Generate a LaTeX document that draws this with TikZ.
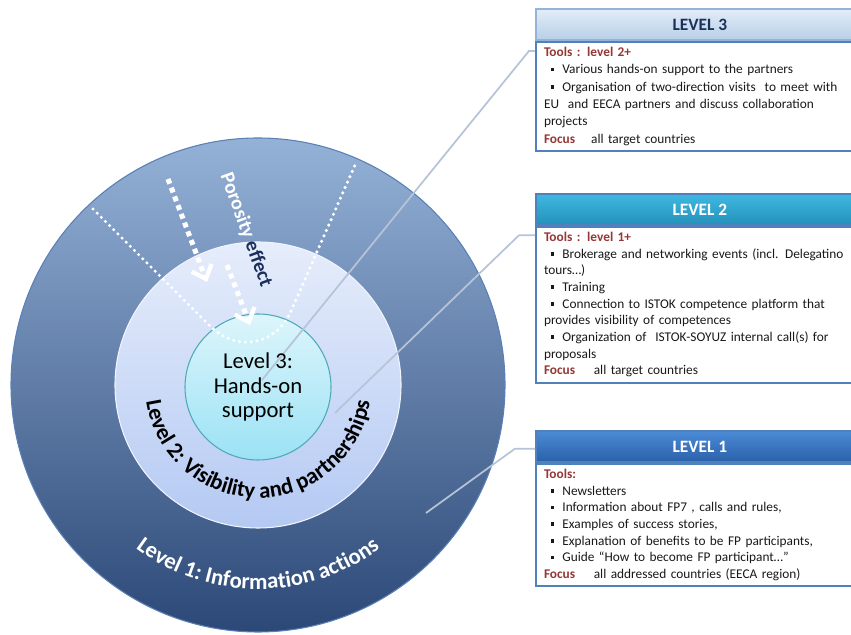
\documentclass[tikz,border=0pt]{standalone}
\usepackage{fontspec}
\setmainfont{Carlito}
\usepackage{xcolor}
\usepackage{tikz}
\usetikzlibrary{positioning, calc, arrows.meta, decorations.text}
\definecolor{infotop}{HTML}{94B1D7}
\definecolor{infobot}{HTML}{2C4877}
\definecolor{infoline}{HTML}{5A80B6}
\definecolor{vistop}{HTML}{E6EDFB}
\definecolor{visbot}{HTML}{B4C9F3}
\definecolor{coretop}{HTML}{DDF5FB}
\definecolor{corebot}{HTML}{9BE2F5}
\definecolor{coreline}{HTML}{4EA9B9}
\definecolor{boxblue}{HTML}{4F81BD}
\definecolor{toolred}{HTML}{953735}
\definecolor{linkgrey}{HTML}{B7C3D7}
\definecolor{navytext}{HTML}{1B2F5C}
\definecolor{hthreetop}{HTML}{E3EDF7}
\definecolor{hthreebot}{HTML}{B7CFE8}
\definecolor{htwotop}{HTML}{3FB9E2}
\definecolor{htwobot}{HTML}{2390B9}
\definecolor{honetop}{HTML}{4C8BD6}
\definecolor{honebot}{HTML}{2A60A9}

\newcommand{\bul}{\hspace*{5pt}\rule[2pt]{2.8pt}{2.8pt}\hspace{6pt}}
\newcommand{\tl}[1]{\textcolor{toolred}{\bfseries #1}}

\begin{document}
\begin{tikzpicture}[x=0.75pt, y=0.75pt,
  hdr/.style={draw=boxblue, line width=1.2pt, minimum width=246pt, minimum height=23.5pt, inner sep=0pt, anchor=north west, font=\fontsize{13}{15}\selectfont\bfseries},
  bodybox/.style={draw=boxblue, line width=1.5pt, fill=white, text width=256pt, align=left, inner xsep=6pt, inner ysep=4pt, text=black!90},
  ring/.style={circle, inner sep=0pt},
  link/.style={draw=linkgrey, line width=1.3pt},
  pores/.style={white, line width=2.6pt, dash pattern=on 0pt off 4.4pt, line cap=round},
  seep/.style={white, line width=3.8pt, dash pattern=on 3.8pt off 3.2pt, -{Straight Barb[length=9pt, width=16pt, line width=3.2pt]}}]
  \path[use as bounding box, clip] (0,0) rectangle (851,635);
  \fill[white] (0,0) rectangle (851,635);

  \node[ring, minimum size=370.5pt, top color=infotop, bottom color=infobot, draw=infoline, line width=0.8pt] (info) at (258,250) {};
  \node[ring, minimum size=214.5pt, top color=vistop, bottom color=visbot, draw=white!80!visbot, line width=0.8pt] (vis) at (258,250) {};
  \node[ring, minimum size=109.5pt, top color=coretop, bottom color=corebot, draw=coreline, line width=0.8pt] (core) at (258,248) {};

  \draw[pores] (93,426) -- (210,309) .. controls (236,283) and (276,288) .. (292,326) -- (355,470);
  \draw[seep] (168,456) -- (207,353);
  \draw[seep] (227,370) -- (250,310);
  \node[rotate=-70, font=\fontsize{15}{17}\selectfont\bfseries] (poro) at (246,405) {\textcolor{white}{Porosity} \textcolor{navytext}{effect}};

  \path[decorate, decoration={text along path, text align=center, text={|\fontsize{17}{19}\selectfont\bfseries\color{black}|Level 2: Visibility and partnerships}}] ($(vis.center)+(180:113)$) arc[start angle=180, end angle=360, radius=113];
  \path[decorate, decoration={text along path, text align=center, text={|\fontsize{17}{19}\selectfont\bfseries\color{white}|Level 1: Information actions}}] ($(info.center)+(200:204)$) arc[start angle=200, end angle=340, radius=204];

  \node[hdr, top color=hthreetop, bottom color=hthreebot, draw=boxblue!60, text=navytext] (hthree) at (535,627) {LEVEL 3};
  \node[bodybox, font=\fontsize{10}{13}\selectfont, below=0pt of hthree.south west, anchor=north west] (bthree) {\tl{Tools : level 2+}\\
    \bul Various hands-on support to the partners\\
    \bul Organisation of two-direction visits~ to meet with\\
    EU~ and EECA partners and discuss collaboration\\
    projects\\
    \tl{Focus}\hspace{12pt}all target countries};

  \node[hdr, top color=htwotop, bottom color=htwobot, text=white] (htwo) at (535,442) {LEVEL 2};
  \node[bodybox, font=\fontsize{10}{12.5}\selectfont, below=0pt of htwo.south west, anchor=north west] (btwo) {\tl{Tools : level 1+}\\
    \bul Brokerage and networking events (incl. Delegatino\\
    tours…)\\
    \bul Training\\
    \bul Connection to ISTOK competence platform that\\
    provides visibility of competences\\
    \bul Organization of~ ISTOK-SOYUZ internal call(s) for\\
    proposals\\
    \tl{Focus}\hspace{14pt}all target countries};

  \node[hdr, top color=honetop, bottom color=honebot, text=white] (hone) at (535,205) {LEVEL 1};
  \node[bodybox, font=\fontsize{10}{12.5}\selectfont, below=0pt of hone.south west, anchor=north west] (bone) {\tl{Tools:}\\
    \bul Newsletters\\
    \bul Information about FP7 , calls and rules,\\
    \bul Examples of success stories,\\
    \bul Explanation of benefits to be FP participants,\\
    \bul Guide “How to become FP participant…”\\
    \tl{Focus}\hspace{14pt}all addressed countries (EECA region)};

  \coordinate (pthree) at (262,255);
  \coordinate (ptwo) at (335,222);
  \coordinate (pone) at (426,122);
  \draw[link] ([yshift=-7.5pt]bthree.north west) -- ++(-6,0) -- (pthree);
  \draw[link] ([yshift=-7pt]btwo.north west) -- ++(-16,0) -- (ptwo);
  \draw[link] ([yshift=-14pt]hone.north west) -- ++(-20,0) -- (pone);

  \node[align=center, font=\fontsize{17}{18.5}\selectfont, text=black] (coretxt) at (core.center) {Level 3:\\Hands-on\\support};
\end{tikzpicture}
\end{document}
